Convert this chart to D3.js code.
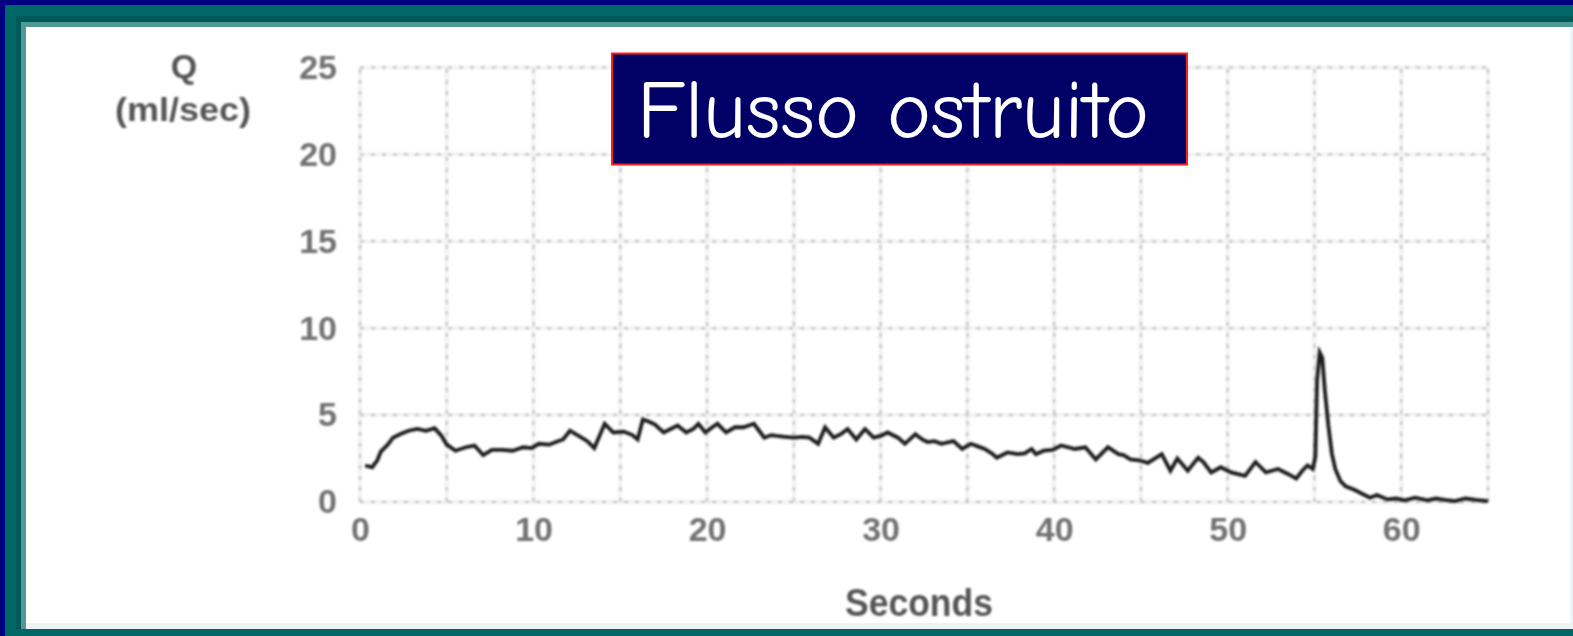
<!DOCTYPE html>
<html>
<head>
<meta charset="utf-8">
<script src="https://cdn.jsdelivr.net/npm/d3@7"></script>
<style>
  html, body { margin: 0; padding: 0; background: #000080; }
  svg { display: block; }
</style>
</head>
<body>
<svg id="chart" width="1573" height="636"></svg>
<script>
"use strict";

// values
var seconds = [0.3, 0.7, 1.0, 1.2, 1.6, 1.9, 2.3, 2.8, 3.3, 3.8, 4.3, 4.7, 5.0, 5.5, 6.1, 6.6, 7.1, 7.6, 8.2, 8.8,
  9.4, 9.9, 10.3, 10.9, 11.4, 11.7, 12.1, 12.6, 13.1, 13.5, 13.8, 14.1, 14.6, 15.2, 15.7, 16.0, 16.3, 16.7, 17.0, 17.5,
  17.9, 18.3, 18.8, 19.2, 19.5, 19.9, 20.3, 20.6, 21.1, 21.6, 22.1, 22.7, 23.0, 23.3, 23.7, 24.0, 24.5, 25.0, 25.5, 25.9,
  26.4, 26.8, 27.3, 27.7, 28.1, 28.6, 29.1, 29.6, 30.0, 30.4, 31.0, 31.4, 32.0, 32.4, 32.7, 33.1, 33.5, 34.2, 34.7, 35.2,
  35.6, 36.0, 36.4, 36.7, 37.3, 37.9, 38.3, 38.7, 38.95, 39.4, 39.9, 40.4, 41.2, 41.8, 42.4, 43.1, 43.7, 44.0, 44.4, 44.9,
  45.4, 46.2, 46.7, 47.1, 47.7, 48.3, 48.6, 49.05, 49.6, 50.2, 51.0, 51.6, 52.2, 52.9, 53.5, 53.95, 54.3, 54.6, 54.9, 55.05,
  55.15, 55.3, 55.45, 55.6, 55.8, 56.0, 56.2, 56.5, 56.8, 57.3, 57.8, 58.2, 58.6, 59.2, 59.7, 60.2, 60.8, 61.5, 62.0, 62.5,
  63.1, 63.7, 64.3, 65.0];
var flow = [2.1, 2.0, 2.4, 2.9, 3.3, 3.7, 3.9, 4.1, 4.2, 4.1, 4.25, 3.8, 3.3, 2.95, 3.15, 3.25, 2.7, 3.0, 3.0, 2.95,
  3.15, 3.1, 3.35, 3.3, 3.5, 3.6, 4.1, 3.8, 3.5, 3.1, 3.8, 4.5, 4.0, 4.05, 3.85, 3.6, 4.75, 4.6, 4.45, 4.0,
  4.2, 4.4, 4.0, 4.2, 4.5, 4.0, 4.3, 4.5, 4.0, 4.3, 4.3, 4.5, 4.1, 3.7, 3.85, 3.8, 3.75, 3.7, 3.75, 3.7,
  3.35, 4.3, 3.7, 3.9, 4.2, 3.6, 4.2, 3.7, 3.8, 4.0, 3.7, 3.35, 3.9, 3.6, 3.45, 3.5, 3.35, 3.5, 3.05, 3.35,
  3.2, 3.05, 2.8, 2.55, 2.85, 2.75, 2.8, 3.05, 2.75, 2.95, 3.0, 3.25, 3.05, 3.15, 2.45, 3.15, 2.75, 2.7, 2.45, 2.4,
  2.25, 2.75, 1.8, 2.5, 1.8, 2.55, 2.3, 1.7, 2.0, 1.7, 1.5, 2.3, 1.7, 1.9, 1.6, 1.35, 1.8, 2.1, 1.9, 2.6,
  7.0, 8.6, 8.3, 6.4, 4.4, 2.8, 1.9, 1.2, 0.9, 0.7, 0.45, 0.25, 0.4, 0.15, 0.2, 0.1, 0.25, 0.1, 0.2, 0.12,
  0.05, 0.2, 0.12, 0.05];

var xTicks = [0, 10, 20, 30, 40, 50, 60];
var yTicks = [0, 5, 10, 15, 20, 25];
var xGrid = [0, 5, 10, 15, 20, 25, 30, 35, 40, 45, 50, 55, 60, 65];
var yGrid = [0, 5, 10, 15, 20, 25];

var titleText = "Flusso ostruito";
var yLabel1 = "Q";
var yLabel2 = "(ml/sec)";
var xLabel = "Seconds";

var svg = d3.select("#chart");

// slide frame
svg.append("rect").attr("width", 1573).attr("height", 636).attr("fill", "#000080");
svg.append("rect").attr("x", 5).attr("y", 5).attr("width", 1568).attr("height", 631).attr("fill", "#006666");
svg.append("rect").attr("x", 16).attr("y", 16).attr("width", 1557).attr("height", 613).attr("fill", "#005858");
svg.append("rect").attr("x", 21).attr("y", 22).attr("width", 1552).attr("height", 607).attr("fill", "#4f9a96");
svg.append("rect").attr("x", 26).attr("y", 27).attr("width", 1547).attr("height", 602).attr("fill", "#eef4f4");
svg.append("rect").attr("x", 26).attr("y", 27).attr("width", 1544).attr("height", 596).attr("fill", "#ffffff");

// soft blur, the picture is an upscaled scan
var defs = svg.append("defs");
defs.append("filter").attr("id", "soft")
  .attr("x", "-5%").attr("y", "-5%").attr("width", "110%").attr("height", "110%")
  .append("feGaussianBlur").attr("stdDeviation", 0.9);

var x = d3.scaleLinear().domain([0, 65]).range([360, 1488]);
var y = d3.scaleLinear().domain([0, 25]).range([502, 67.5]);

// grid
var grid = svg.append("g").attr("class", "grid").attr("filter", "url(#soft)");

grid.selectAll("line.hbg")
  .data(yGrid)
  .enter()
  .append("line")
  .attr("class", "hbg")
  .attr("x1", x(0)).attr("x2", x(65))
  .attr("y1", function(d){ return y(d); })
  .attr("y2", function(d){ return y(d); })
  .attr("stroke", "#f3f3f3")
  .attr("stroke-width", 4);

grid.selectAll("line.vbg")
  .data(xGrid)
  .enter()
  .append("line")
  .attr("class", "vbg")
  .attr("y1", y(0)).attr("y2", y(25))
  .attr("x1", function(d){ return x(d); })
  .attr("x2", function(d){ return x(d); })
  .attr("stroke", "#f3f3f3")
  .attr("stroke-width", 4);

grid.selectAll("line.h")
  .data(yGrid)
  .enter()
  .append("line")
  .attr("class", "h")
  .attr("x1", x(0)).attr("x2", x(65))
  .attr("y1", function(d){ return y(d); })
  .attr("y2", function(d){ return y(d); })
  .attr("stroke", "#c8c8c8")
  .attr("stroke-width", 2.5)
  .attr("stroke-dasharray", "4,7");

grid.selectAll("line.v")
  .data(xGrid)
  .enter()
  .append("line")
  .attr("class", "v")
  .attr("y1", y(0)).attr("y2", y(25))
  .attr("x1", function(d){ return x(d); })
  .attr("x2", function(d){ return x(d); })
  .attr("stroke", "#c8c8c8")
  .attr("stroke-width", 2.5)
  .attr("stroke-dasharray", "4,7");

// axes (labels only)
var xAxis = svg.append("g")
  .attr("transform", "translate(0," + y(0) + ")")
  .call(d3.axisBottom(x).tickValues(xTicks).tickSize(0).tickPadding(15));
var yAxis = svg.append("g")
  .attr("transform", "translate(" + x(0) + ",0)")
  .call(d3.axisLeft(y).tickValues(yTicks).tickSize(0).tickPadding(23));

[xAxis, yAxis].forEach(function(a) {
  a.select(".domain").remove();
  a.attr("filter", "url(#soft)");
  a.selectAll("text")
    .style("font-family", "'Liberation Sans', Arial, sans-serif")
    .style("font-weight", "bold")
    .style("font-size", "34px")
    .attr("fill", "#727272");
});

// curve
var line = d3.line()
  .x(function(d, i){ return x(seconds[i]); })
  .y(function(d){ return y(d); });

svg.append("path")
  .datum(flow)
  .attr("d", line)
  .attr("fill", "none")
  .attr("stroke", "#1c1c1c")
  .attr("stroke-width", 3.8)
  .attr("stroke-linejoin", "miter")
  .attr("filter", "url(#soft)");

// axis titles
var labels = svg.append("g")
  .attr("filter", "url(#soft)")
  .style("font-family", "'Liberation Sans', Arial, sans-serif")
  .style("font-weight", "bold")
  .attr("fill", "#555555")
  .attr("text-anchor", "middle");

labels.append("text").attr("x", 184).attr("y", 78).style("font-size", "34px").text(yLabel1);
labels.append("text").attr("x", 183).attr("y", 121).style("font-size", "34px")
  .attr("textLength", 136).attr("lengthAdjust", "spacingAndGlyphs").text(yLabel2);
labels.append("text").attr("x", 919).attr("y", 616).style("font-size", "38px")
  .attr("textLength", 148).attr("lengthAdjust", "spacingAndGlyphs").text(xLabel);

// title box
svg.append("rect")
  .attr("x", 612).attr("y", 53.5)
  .attr("width", 575).attr("height", 111)
  .attr("fill", "#000066")
  .attr("stroke", "#ff1f1f")
  .attr("stroke-width", 2);

svg.append("text")
  .attr("x", 637).attr("y", 138)
  .attr("textLength", 512).attr("lengthAdjust", "spacingAndGlyphs")
  .style("font-family", "'Comic Sans MS', 'Comic Neue', Lato, sans-serif")
  .style("font-size", "82px")
  .attr("fill", "#ffffff")
  .text(titleText);
</script>
</body>
</html>
